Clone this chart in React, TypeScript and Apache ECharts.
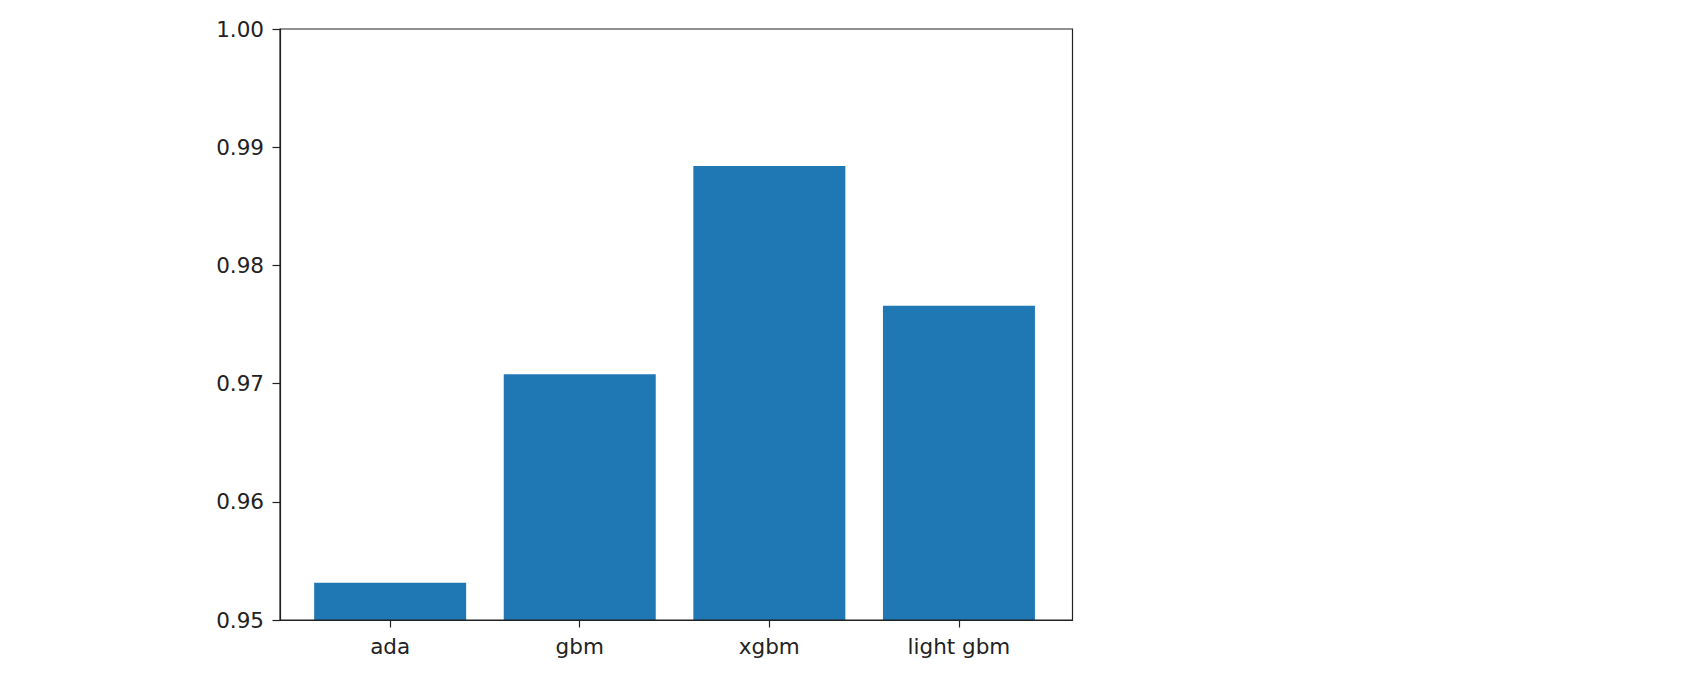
import React, { useEffect, useRef } from "react";
import * as echarts from "echarts";

const categories = ["ada", "gbm", "xgbm", "light gbm"];
const values = [0.95316, 0.97079, 0.98841, 0.97659];
const yTicks = [0.95, 0.96, 0.97, 0.98, 0.99, 1.0];

export default function App() {
  const ref = useRef<HTMLDivElement>(null);
  useEffect(() => {
    if (!ref.current) return;
    const chart = echarts.init(ref.current, null, { renderer: "svg" });
    const positions = categories.map((_, i) => i);
    chart.setOption({
      animation: false,
      backgroundColor: "#ffffff",
      grid: { left: 280, top: 29, right: 625.5, bottom: 58, show: false },
      xAxis: {
        type: "value",
        min: -0.581,
        max: 3.599,
        splitLine: { show: false },
        axisLine: { show: true, onZero: false, lineStyle: { color: "#222", width: 1.2 } },
        axisTick: {
          show: true,
          length: 7.5,
          customValues: positions,
          lineStyle: { color: "#222", width: 1.2 },
        },
        axisLabel: {
          customValues: positions,
          formatter: (v: number) => categories[Math.round(v)] ?? "",
          color: "#222",
          fontFamily: "DejaVu Sans",
          fontSize: 21.5,
          margin: 15,
        },
      },
      yAxis: {
        type: "value",
        min: yTicks[0],
        max: yTicks[yTicks.length - 1],
        interval: 0.01,
        splitLine: { show: false },
        axisLine: { show: true, onZero: false, lineStyle: { color: "#222", width: 1.2 } },
        axisTick: { show: true, length: 7.5, lineStyle: { color: "#222", width: 1.2 } },
        axisLabel: {
          formatter: (v: number) => v.toFixed(2),
          color: "#222",
          fontFamily: "DejaVu Sans",
          fontSize: 21.5,
          margin: 16,
          showMinLabel: true,
          showMaxLabel: true,
        },
      },
      graphic: [
        {
          type: "rect",
          shape: { x: 280, y: 29, width: 1072.5 - 280, height: 620 - 29 },
          style: { fill: "none", stroke: "#222", lineWidth: 1.2 },
          silent: true,
          z: 10,
        },
      ],
      series: [
        {
          type: "bar",
          data: values.map((v, i) => [positions[i], v]),
          barWidth: 152,
          itemStyle: { color: "#1f77b4" },
          clip: true,
        },
      ],
    });
    return () => chart.dispose();
  }, []);
  return (
    <div
      ref={ref}
      style={{ position: "fixed", left: 0, top: 0, width: 1698, height: 678 }}
    />
  );
}
